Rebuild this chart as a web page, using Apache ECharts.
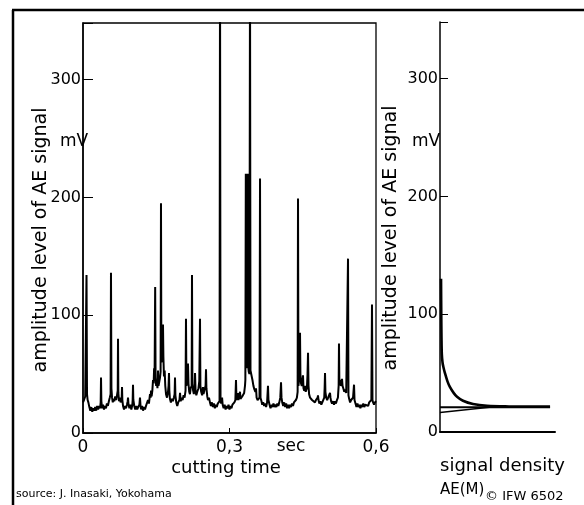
<!DOCTYPE html>
<html>
<head>
<meta charset="utf-8">
<script src="https://cdn.jsdelivr.net/npm/echarts@6/dist/echarts.min.js"></script>
<style>
html,body{margin:0;padding:0;background:#fff;}
#chart{width:584px;height:505px;}
</style>
</head>
<body>
<div id="chart"></div>
<script>
// ---- data ----
const timeTicks = [0, 0.3, 0.6];               // sec
const amplitudeTicks = [0, 100, 200, 300];     // mV

// AE signal trace: [cutting time (s), amplitude (mV)]
const aeSignal = [
[0.000,26],[0.002,28],[0.0045,31],[0.0062,30],[0.0072,134],[0.0082,33],[0.0095,28],[0.011,26],[0.013,22],[0.015,19],
[0.017,22],[0.019,18],[0.021,21],[0.023,19],[0.025,22],[0.027,19],[0.029,23],[0.031,20],[0.033,23],[0.035,21],
[0.0362,26],[0.0369,47],[0.0376,27],[0.039,21],[0.041,24],[0.043,20],[0.045,23],[0.047,21],[0.049,25],[0.051,23],
[0.053,27],[0.0548,30],[0.0565,33],[0.0573,136],[0.0582,38],[0.0595,30],[0.061,26],[0.0625,29],[0.064,27],[0.066,31],
[0.068,28],[0.0700,33],[0.0711,36],[0.0717,80],[0.0724,34],[0.0738,27],[0.0755,30],[0.077,26],[0.0792,29],[0.0799,39],
[0.0806,28],[0.082,23],[0.084,20],[0.086,23],[0.088,21],[0.090,24],[0.0915,27],[0.0922,30],[0.093,25],[0.095,21],
[0.097,24],[0.099,20],[0.101,24],[0.1017,28],[0.1024,41],[0.1031,28],[0.105,23],[0.107,20],[0.109,23],[0.111,20],
[0.113,22],[0.1155,24],[0.1167,30],[0.1178,23],[0.119,20],[0.121,23],[0.123,19],[0.125,22],[0.127,20],[0.129,23],
[0.131,22],[0.1331,28],[0.135,25],[0.1372,33],[0.1385,30],[0.1393,36],[0.1405,31],[0.142,36],[0.1434,45],[0.1447,42],
[0.1456,55],[0.1466,48],[0.1478,124],[0.1486,47],[0.1498,40],[0.151,44],[0.1525,38],[0.1536,53],[0.1546,40],[0.156,43],
[0.1577,47],[0.1589,52],[0.1597,195],[0.1605,60],[0.1618,62],[0.1630,70],[0.1638,92],[0.1646,65],[0.1658,48],[0.1672,53],
[0.1685,40],[0.170,33],[0.172,30],[0.1741,35],[0.1752,40],[0.1761,51],[0.1768,36],[0.178,29],[0.180,26],[0.182,29],
[0.184,27],[0.186,30],[0.1876,33],[0.1884,47],[0.1892,32],[0.191,26],[0.193,23],[0.195,26],[0.1975,28],[0.1987,34],
[0.200,27],[0.202,30],[0.204,28],[0.206,32],[0.208,30],[0.2100,36],[0.2109,97],[0.2118,40],[0.2130,45],[0.2150,59],
[0.2160,42],[0.2175,35],[0.219,33],[0.2205,38],[0.2225,40],[0.2232,134],[0.2240,42],[0.2255,36],[0.227,33],[0.2287,40],
[0.2294,51],[0.2305,36],[0.232,32],[0.234,35],[0.2365,38],[0.2381,44],[0.2396,97],[0.2404,40],[0.242,35],[0.2440,32],
[0.2457,39],[0.2468,33],[0.2485,36],[0.2510,40],[0.2519,54],[0.2527,38],[0.2545,31],[0.2560,28],[0.2580,30],[0.260,26],
[0.262,23],[0.264,26],[0.266,22],[0.268,25],[0.270,21],[0.272,24],[0.274,22],[0.276,25],[0.278,24],[0.2796,27],
[0.2806,400],[0.2816,28],[0.283,25],[0.2848,30],[0.286,24],[0.288,21],[0.290,24],[0.292,20],[0.294,23],[0.296,21],
[0.298,24],[0.300,20],[0.302,23],[0.304,21],[0.306,24],[0.308,23],[0.310,26],[0.312,28],[0.3133,45],[0.3142,30],
[0.3158,28],[0.3174,34],[0.3182,28],[0.3198,31],[0.3215,35],[0.3225,29],[0.324,28],[0.326,31],[0.328,30],[0.3300,34],
[0.3317,40],[0.3325,45],[0.3334,220],[0.3342,55],[0.3355,60],[0.3365,58],[0.3374,220],[0.3382,57],[0.3394,52],[0.3408,50],
[0.3420,400],[0.3430,53],[0.3440,53],[0.3455,48],[0.3470,45],[0.3490,40],[0.3510,37],[0.3530,35],[0.3543,38],[0.3555,30],
[0.3575,28],[0.3600,27],[0.3615,30],[0.3625,216],[0.3635,30],[0.3655,27],[0.367,24],[0.369,26],[0.371,23],[0.373,25],
[0.375,22],[0.377,26],[0.3788,40],[0.3798,28],[0.382,24],[0.384,21],[0.386,24],[0.388,22],[0.390,25],[0.392,22],
[0.394,24],[0.396,22],[0.398,25],[0.400,23],[0.402,26],[0.4040,30],[0.4055,43],[0.4065,30],[0.408,26],[0.410,23],
[0.412,26],[0.414,22],[0.416,25],[0.418,21],[0.420,24],[0.422,21],[0.424,24],[0.426,22],[0.428,25],[0.430,23],
[0.432,26],[0.434,25],[0.436,28],[0.438,30],[0.4395,35],[0.4403,199],[0.4412,40],[0.4425,45],[0.4436,60],[0.4444,85],
[0.4452,50],[0.4465,42],[0.4480,40],[0.4495,44],[0.4505,49],[0.4515,38],[0.453,36],[0.4545,40],[0.456,35],[0.4585,38],
[0.4598,50],[0.4608,68],[0.4618,40],[0.463,33],[0.465,30],[0.467,31],[0.469,28],[0.471,27],[0.473,29],[0.475,26],
[0.477,28],[0.479,27],[0.4805,30],[0.4812,32],[0.4822,28],[0.484,25],[0.486,27],[0.488,24],[0.490,26],[0.492,27],
[0.494,30],[0.4948,38],[0.4956,51],[0.4964,35],[0.498,30],[0.500,28],[0.502,30],[0.504,29],[0.5058,34],[0.5068,30],
[0.508,27],[0.510,25],[0.512,27],[0.514,24],[0.516,27],[0.518,25],[0.520,28],[0.522,30],[0.5235,40],[0.5242,76],
[0.5250,42],[0.5265,45],[0.528,40],[0.5295,42],[0.5304,46],[0.5315,40],[0.533,38],[0.535,35],[0.537,37],[0.539,34],
[0.541,35],[0.5427,148],[0.5436,32],[0.545,29],[0.547,26],[0.549,28],[0.551,27],[0.553,30],[0.5550,41],[0.5560,28],
[0.558,25],[0.560,22],[0.562,25],[0.564,22],[0.566,24],[0.568,21],[0.570,24],[0.572,22],[0.574,25],[0.576,22],
[0.578,24],[0.580,23],[0.582,25],[0.584,23],[0.586,26],[0.588,25],[0.5905,28],[0.5918,109],[0.5928,28],[0.594,26],
[0.596,24],[0.598,26],[0.600,27]
];

// signal density AE(M): [relative density, amplitude (mV)]
const densityCurve = [[0.009,130],[0.011,100],[0.013,80],[0.016,66],[0.022,59],[0.030,55],[0.043,50],[0.065,43],[0.087,38],[0.12,33],[0.148,30],[0.2,26.5],[0.287,23.7],[0.409,22.2],[0.6,21.7],[0.957,21.5]];
const densityLevel = [[0,21],[0.957,21]];
const densitySlope = [[0,16.5],[0.43,21]];

const FONT = 'DejaVu Sans';
const chart = echarts.init(document.getElementById('chart'));
const axisLineStyle = {color:'#000', width:1.5};
const fmtAmp = v => amplitudeTicks.includes(v) ? String(v) : '';

chart.setOption({
  animation:false,
  backgroundColor:'#fff',
  grid:[
    {left:83, top:23, width:293, height:410, show:true, borderColor:'#000', borderWidth:1.3, backgroundColor:'transparent'},
    {left:440, top:22, width:115, height:410}
  ],
  xAxis:[
    {gridIndex:0, type:'value', min:timeTicks[0], max:timeTicks[2], interval:0.3,
     axisLine:{lineStyle:axisLineStyle}, splitLine:{show:false},
     axisTick:{inside:true, length:5, lineStyle:{color:'#000'}},
     axisLabel:{color:'#000', fontFamily:FONT, fontSize:17, margin:6,
       formatter:v => timeTicks.some(t=>Math.abs(t-v)<1e-9) ? String(Math.round(v*10)/10).replace('.',',') : ''}},
    {gridIndex:1, type:'value', min:0, max:1,
     axisLine:{lineStyle:{color:'#000', width:2}}, splitLine:{show:false},
     axisTick:{show:false}, axisLabel:{show:false}}
  ],
  yAxis:[
    {gridIndex:0, type:'value', min:0, max:348, interval:100,
     axisLine:{lineStyle:axisLineStyle}, splitLine:{show:false},
     axisTick:{inside:true, length:10, lineStyle:{color:'#000'}},
     axisLabel:{color:'#000', fontFamily:FONT, fontSize:16, margin:2, formatter:fmtAmp}},
    {gridIndex:1, type:'value', min:0, max:348, interval:100,
     axisLine:{lineStyle:axisLineStyle}, splitLine:{show:false},
     axisTick:{inside:true, length:8, lineStyle:{color:'#000'}},
     axisLabel:{color:'#000', fontFamily:FONT, fontSize:16, margin:2, formatter:fmtAmp}}
  ],
  series:[
    {type:'line', xAxisIndex:0, yAxisIndex:0, data:aeSignal, symbol:'none', clip:true,
     lineStyle:{color:'#000', width:2}},
    {type:'line', xAxisIndex:1, yAxisIndex:1, data:densityCurve, symbol:'none', smooth:0.35,
     lineStyle:{color:'#000', width:2.6}},
    {type:'line', xAxisIndex:1, yAxisIndex:1, data:densityLevel, symbol:'none',
     lineStyle:{color:'#000', width:1.8}},
    {type:'line', xAxisIndex:1, yAxisIndex:1, data:densitySlope, symbol:'none',
     lineStyle:{color:'#000', width:1.5}}
  ],
  graphic:[
    {type:'line', shape:{x1:12, y1:10, x2:584, y2:10}, style:{stroke:'#000', lineWidth:2.5}},
    {type:'line', shape:{x1:13, y1:10, x2:13, y2:505}, style:{stroke:'#000', lineWidth:2.5}},
    {type:'text', x:41, y:240, rotation:Math.PI/2,
     style:{text:'amplitude level of AE signal', font:'19px "DejaVu Sans"', fill:'#000', align:'center', verticalAlign:'middle'}},
    {type:'text', x:391, y:238, rotation:Math.PI/2,
     style:{text:'amplitude level of AE signal', font:'19px "DejaVu Sans"', fill:'#000', align:'center', verticalAlign:'middle'}},
    {type:'text', x:74, y:142, style:{text:'mV', font:'17px "DejaVu Sans"', fill:'#000', align:'center', verticalAlign:'middle'}},
    {type:'text', x:426, y:142, style:{text:'mV', font:'17px "DejaVu Sans"', fill:'#000', align:'center', verticalAlign:'middle'}},
    {type:'text', x:291, y:447, style:{text:'sec', font:'17px "DejaVu Sans"', fill:'#000', align:'center', verticalAlign:'middle'}},
    {type:'text', x:226, y:468, style:{text:'cutting time', font:'18px "DejaVu Sans"', fill:'#000', align:'center', verticalAlign:'middle'}},
    {type:'text', x:440, y:466, style:{text:'signal density', font:'18px "DejaVu Sans"', fill:'#000', align:'left', verticalAlign:'middle'}},
    {type:'text', x:440, y:490, style:{text:'AE(M)', font:'15px "DejaVu Sans"', fill:'#000', align:'left', verticalAlign:'middle'}},
    {type:'text', x:485, y:497, style:{text:'© IFW 6502', font:'13px "DejaVu Sans"', fill:'#000', align:'left', verticalAlign:'middle'}},
    {type:'text', x:16, y:494, style:{text:'source: J. Inasaki, Yokohama', font:'11px "DejaVu Sans"', fill:'#000', align:'left', verticalAlign:'middle'}}
  ]
});
</script>
</body>
</html>
